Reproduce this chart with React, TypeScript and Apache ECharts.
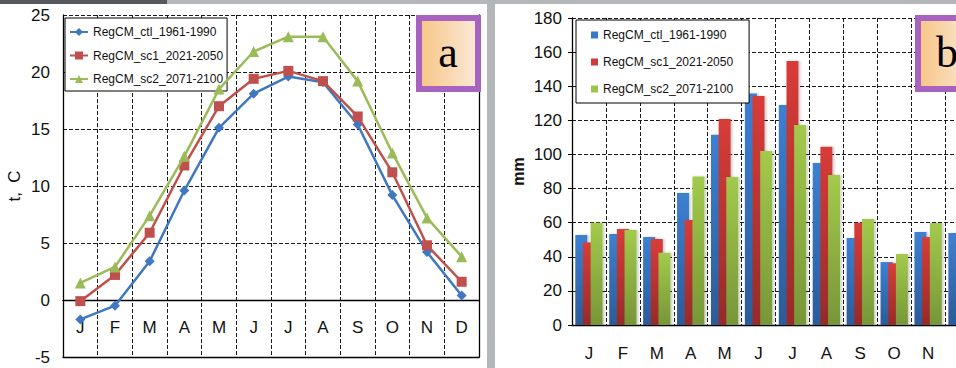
import React, { useEffect, useRef } from 'react';
import * as echarts from 'echarts';

const months = ['J', 'F', 'M', 'A', 'M', 'J', 'J', 'A', 'S', 'O', 'N', 'D'];
const seriesNames = ['RegCM_ctl_1961-1990', 'RegCM_sc1_2021-2050', 'RegCM_sc2_2071-2100'];

// Panel a: temperature, t °C
const tempCtl = [-1.7, -0.5, 3.4, 9.6, 15.1, 18.1, 19.6, 19.1, 15.4, 9.2, 4.2, 0.4];
const tempSc1 = [-0.1, 2.2, 5.9, 11.8, 17.0, 19.4, 20.1, 19.2, 16.1, 11.2, 4.8, 1.6];
const tempSc2 = [1.5, 2.9, 7.4, 12.6, 18.5, 21.8, 23.1, 23.1, 19.2, 12.9, 7.2, 3.8];

// Panel b: precipitation, mm
const precCtl = [52.8, 53.4, 51.6, 77.4, 111.5, 135.7, 129.0, 95.0, 51.0, 36.9, 54.5, 53.9];
const precSc1 = [48.3, 56.3, 50.4, 61.6, 120.8, 134.2, 154.8, 104.5, 60.0, 36.2, 51.6, 52.8];
const precSc2 = [60.0, 55.7, 42.4, 87.0, 86.8, 102.0, 117.3, 87.9, 62.1, 41.6, 59.8, 57.0];

const tempTicks = { min: -5, max: 25, interval: 5 };
const precTicks = { min: 0, max: 180, interval: 20 };

export default function App() {
  const ref = useRef<HTMLDivElement>(null);

  useEffect(() => {
    const chart = echarts.init(ref.current as HTMLDivElement, null, { renderer: 'svg' });
    const font = "'Liberation Sans', Arial, sans-serif";
    const barNames = seriesNames.map((n) => 'b:' + n);
    const lineColors = ['#3f77c0', '#c0504d', '#9bbb59'];
    const symbols = ['diamond', 'rect', 'triangle'];
    const symbolSizes = [10, 10, 11];
    const tempData = [tempCtl, tempSc1, tempSc2];
    const precData = [precCtl, precSc1, precSc2];
    const barFlat = ['#3a78c8', '#cf3b38', '#9cc44b'];
    const grad = (top: string, bottom: string) =>
      new echarts.graphic.LinearGradient(0, 0, 0, 1, [
        { offset: 0, color: top },
        { offset: 1, color: bottom },
      ]);
    const barGrads = [
      grad('#3d80d2', '#2c5b98'),
      grad('#d83c38', '#962b29'),
      grad('#a3ca4c', '#779638'),
    ];
    const dashed = { type: 'dashed', color: '#1a1a1a', width: 1 };
    const axisBlack = { color: '#000', width: 1.3 };

    const option: any = {
      animation: false,
      backgroundColor: '#fff',
      textStyle: { fontFamily: font },
      grid: [
        { left: 63, top: 15, width: 416, height: 342, outerBoundsMode: 'none', containLabel: false },
        { left: 572, top: 18, width: 407, height: 307, outerBoundsMode: 'none', containLabel: false },
      ],
      xAxis: [
        {
          gridIndex: 0,
          type: 'category',
          data: months,
          boundaryGap: true,
          axisLine: { onZero: true, lineStyle: axisBlack },
          axisTick: { show: false },
          axisLabel: { show: false },
          splitLine: { show: true, interval: 0, lineStyle: dashed },
        },
        {
          gridIndex: 0,
          type: 'category',
          data: months,
          position: 'bottom',
          axisLine: { onZero: false, lineStyle: axisBlack },
          axisTick: { show: false },
          axisLabel: { show: true, margin: -38, fontSize: 17, color: '#111', interval: 0 },
          splitLine: { show: false },
        },
        {
          gridIndex: 1,
          type: 'category',
          data: months,
          boundaryGap: true,
          axisLine: { onZero: true, lineStyle: axisBlack },
          axisTick: { show: false },
          axisLabel: { margin: 20, fontSize: 17, color: '#111', interval: 0 },
          splitLine: { show: true, interval: 0, lineStyle: dashed },
        },
      ],
      yAxis: [
        {
          gridIndex: 0,
          type: 'value',
          ...tempTicks,
          name: 't,  C',
          nameLocation: 'middle',
          nameRotate: 90,
          nameGap: 40,
          nameTextStyle: { fontSize: 17, color: '#111' },
          axisLine: { show: true, lineStyle: axisBlack },
          axisTick: { show: false },
          axisLabel: { fontSize: 17, margin: 13, color: '#111' },
          splitLine: { show: true, lineStyle: dashed },
        },
        {
          gridIndex: 0,
          type: 'value',
          ...tempTicks,
          position: 'right',
          axisLine: { show: true, onZero: false, lineStyle: axisBlack },
          axisTick: { show: false },
          axisLabel: { show: false },
          splitLine: { show: false },
        },
        {
          gridIndex: 1,
          type: 'value',
          ...precTicks,
          name: 'mm',
          nameLocation: 'middle',
          nameRotate: 90,
          nameGap: 46,
          nameTextStyle: { fontSize: 16, fontWeight: 'bold', color: '#111' },
          axisLine: { show: true, lineStyle: axisBlack },
          axisTick: { show: true, length: 4, lineStyle: { color: '#000' } },
          axisLabel: { fontSize: 17, margin: 10, color: '#111' },
          splitLine: { show: true, lineStyle: dashed },
        },
      ],
      legend: [
        {
          left: 65,
          top: 18,
          orient: 'vertical',
          data: seriesNames,
          backgroundColor: '#fff',
          borderColor: '#000',
          borderWidth: 1,
          padding: [8, 4, 6, 4],
          itemGap: 11.5,
          itemWidth: 18,
          itemHeight: 10,
          textStyle: { fontSize: 12, color: '#111', fontFamily: font },
          selectedMode: false,
        },
        {
          left: 576,
          top: 20,
          orient: 'vertical',
          data: barNames.map((n, i) => ({ name: n, icon: 'rect', itemStyle: { color: barFlat[i] } })),
          formatter: (n: string) => n.replace(/^b:/, ''),
          backgroundColor: '#fff',
          borderColor: '#000',
          borderWidth: 1,
          padding: [9, 16, 8, 15],
          itemGap: 15,
          itemWidth: 7,
          itemHeight: 7,
          textStyle: { fontSize: 12, color: '#111', fontFamily: font },
          selectedMode: false,
        },
      ],
      series: [
        ...seriesNames.map((name, i) => ({
          type: 'line',
          name,
          xAxisIndex: 0,
          yAxisIndex: 0,
          data: tempData[i],
          symbol: symbols[i],
          symbolSize: symbolSizes[i],
          lineStyle: { width: 2.5, color: lineColors[i] },
          itemStyle: { color: lineColors[i] },
          z: 3 + i,
        })),
        ...barNames.map((name, i) => ({
          type: 'bar',
          name,
          xAxisIndex: 2,
          yAxisIndex: 2,
          data: precData[i],
          barWidth: 12,
          barGap: '-36%',
          itemStyle: {
            color: barGrads[i],
            shadowColor: 'rgba(0,0,0,0.18)',
            shadowBlur: 2,
            shadowOffsetX: 2,
          },
        })),
      ],
      graphic: [
        { type: 'rect', z: 100, shape: { x: 0, y: 0, width: 167, height: 4 }, style: { fill: '#55595e' } },
        { type: 'rect', z: 100, shape: { x: 167, y: 0, width: 850, height: 4 }, style: { fill: '#b3b7ba' } },
        { type: 'rect', z: 100, shape: { x: 487, y: 0, width: 8, height: 368 }, style: { fill: '#b3b7ba' } },
        {
          type: 'rect',
          z: 100,
          shape: { x: 419, y: 18, width: 59, height: 71 },
          style: {
            fill: new echarts.graphic.LinearGradient(0, 0, 1, 0, [
              { offset: 0, color: '#f6c685' },
              { offset: 1, color: '#fbe9d8' },
            ]),
            stroke: '#a862bf',
            lineWidth: 6,
          },
        },
        {
          type: 'text',
          z: 101,
          x: 448,
          y: 52,
          style: {
            text: 'a',
            font: '44px "Liberation Serif", "DejaVu Serif", serif',
            fill: '#000',
            textAlign: 'center',
            textVerticalAlign: 'middle',
          },
        },
        {
          type: 'rect',
          z: 100,
          shape: { x: 918, y: 18, width: 59, height: 71 },
          style: {
            fill: new echarts.graphic.LinearGradient(0, 0, 1, 0, [
              { offset: 0, color: '#f6c685' },
              { offset: 1, color: '#fbe9d8' },
            ]),
            stroke: '#a862bf',
            lineWidth: 6,
          },
        },
        {
          type: 'text',
          z: 101,
          x: 947,
          y: 52,
          style: {
            text: 'b',
            font: '44px "Liberation Serif", "DejaVu Serif", serif',
            fill: '#000',
            textAlign: 'center',
            textVerticalAlign: 'middle',
          },
        },
      ],
    };
    chart.setOption(option);
    return () => chart.dispose();
  }, []);

  return (
    <div
      style={{
        position: 'fixed',
        left: 0,
        top: 0,
        width: 956,
        height: 368,
        overflow: 'hidden',
        background: '#fff',
      }}
    >
      <div ref={ref} style={{ width: 1010, height: 368 }} />
    </div>
  );
}
